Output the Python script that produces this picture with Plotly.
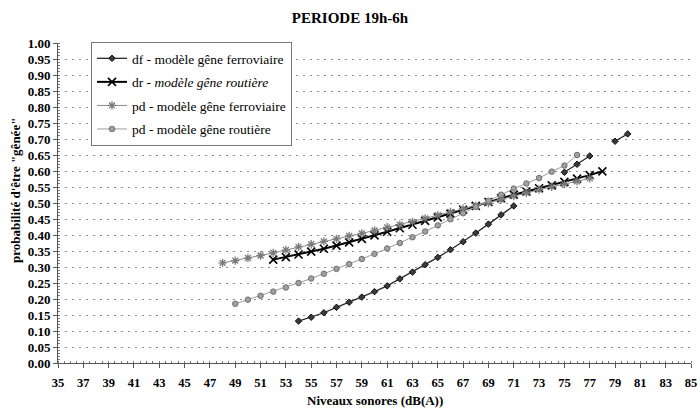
import plotly.graph_objects as go

# Noise level (dB(A)) and probability of being annoyed, night period 19h-6h
df_x = [54, 55, 56, 57, 58, 59, 60, 61, 62, 63, 64, 65, 66, 67, 68, 69, 70, 71,
        None, 75, 76, 77, None, 79, 80]
df_y = [0.131, 0.143, 0.157, 0.174, 0.190, 0.206, 0.223, 0.241, 0.263, 0.284,
        0.307, 0.330, 0.354, 0.379, 0.406, 0.434, 0.463, 0.491,
        None, 0.596, 0.621, 0.647, None, 0.693, 0.716]

dr_x = list(range(52, 79))
dr_y = [0.323, 0.331, 0.339, 0.348, 0.357, 0.367, 0.377, 0.388, 0.399, 0.410,
        0.421, 0.432, 0.444, 0.455, 0.467, 0.479, 0.491, 0.503, 0.515, 0.526,
        0.536, 0.546, 0.555, 0.566, 0.576, 0.587, 0.599]

pdf_x = list(range(48, 78))
pdf_y = [0.313, 0.320, 0.328, 0.336, 0.344, 0.353, 0.363, 0.371, 0.380, 0.388,
         0.397, 0.405, 0.414, 0.424, 0.432, 0.441, 0.452, 0.462, 0.472, 0.482,
         0.491, 0.500, 0.511, 0.522, 0.532, 0.542, 0.551, 0.559, 0.568, 0.577]

pdr_x = list(range(49, 77))
pdr_y = [0.185, 0.198, 0.210, 0.223, 0.236, 0.250, 0.264, 0.279, 0.294, 0.309,
         0.325, 0.341, 0.358, 0.375, 0.393, 0.411, 0.430, 0.449, 0.468, 0.488,
         0.507, 0.526, 0.545, 0.561, 0.578, 0.598, 0.617, 0.650]

names = [
    "df - modèle gêne ferroviaire",
    "dr - <i>modèle gêne routière</i>",
    "pd - modèle gêne ferroviaire",
    "pd - modèle gêne routière",
]

x_title = "Niveaux sonores (dB(A))"
y_title = "probabilité d'être \"gênée\""

SERIF = "Liberation Serif"

fig = go.Figure()

fig.add_trace(go.Scatter(
    x=df_x, y=df_y, name=names[0], mode="lines+markers", legendgroup="a",
    connectgaps=False,
    line=dict(color="#2a2a2a", width=1.3),
    marker=dict(symbol="diamond", size=5, color="#3a3a3a",
                line=dict(color="#111111", width=1)),
))
fig.add_trace(go.Scatter(
    x=dr_x, y=dr_y, name=names[1], mode="lines+markers", legendgroup="b",
    line=dict(color="#000000", width=2),
    marker=dict(symbol="x-thin", size=8, color="#000000",
                line=dict(color="#000000", width=1.6)),
))
fig.add_trace(go.Scatter(
    x=pdf_x, y=pdf_y, name=names[2], mode="lines+markers", legendgroup="c",
    line=dict(color="#8a8a8a", width=1),
    marker=dict(symbol="asterisk", size=7, color="#8a8a8a",
                line=dict(color="#7a7a7a", width=1.3)),
))
fig.add_trace(go.Scatter(
    x=pdr_x, y=pdr_y, name=names[3], mode="lines+markers", legendgroup="d",
    line=dict(color="#9a9a9a", width=1),
    marker=dict(symbol="circle", size=5.5, color="#a0a0a0",
                line=dict(color="#6e6e6e", width=1)),
))

fig.update_layout(
    width=700, height=410,
    margin=dict(l=58, r=9, t=43, b=47),
    paper_bgcolor="white", plot_bgcolor="white",
    font=dict(family=SERIF, color="#000000"),
    title=dict(text="<b>PERIODE 19h-6h</b>", x=0.5, xanchor="center",
               y=1 - 18 / 410, yanchor="middle",
               font=dict(family=SERIF, size=15, color="#000000")),
    legend=dict(x=(91 - 58) / 633, y=1.003, xanchor="left", yanchor="top",
                bgcolor="white", bordercolor="#777777", borderwidth=1,
                font=dict(family=SERIF, size=13.5, color="#000000"),
                tracegroupgap=3, itemwidth=30),
    showlegend=True,
    annotations=[
        dict(text="<b>" + x_title + "</b>", xref="paper", yref="paper",
             x=0.5, y=-37 / 320, xanchor="center", yanchor="middle",
             showarrow=False, font=dict(family=SERIF, size=13, color="#000000")),
        dict(text="<b>" + y_title + "</b>", xref="paper", yref="paper",
             x=-43 / 633, y=(363 - 191) / 320, xanchor="center", yanchor="middle",
             textangle=-90, showarrow=False,
             font=dict(family=SERIF, size=13, color="#000000")),
    ],
)

fig.update_xaxes(
    range=[35, 85], tick0=35, dtick=2, automargin=False,
    showgrid=False, zeroline=False,
    showline=True, linecolor="#555555", linewidth=1,
    ticks="outside", ticklen=4, tickcolor="#555555",
    ticklabelstandoff=4,
    minor=dict(dtick=0.5, ticks="inside", ticklen=2, tickcolor="#777777"),
    tickfont=dict(family=SERIF, size=12.5, color="#000000", weight="bold"),
)
fig.update_yaxes(
    range=[0, 1], tick0=0, dtick=0.05, tickformat=".2f", automargin=False,
    showgrid=True, gridcolor="#8c8c8c", gridwidth=1, griddash="2px,5px",
    zeroline=False,
    showline=True, linecolor="#555555", linewidth=1,
    ticks="outside", ticklen=4, tickcolor="#555555",
    minor=dict(dtick=0.01, ticks="inside", ticklen=2, tickcolor="#777777",
               showgrid=False),
    tickfont=dict(family=SERIF, size=13, color="#000000", weight="bold"),
)

fig.write_html("out.html")
